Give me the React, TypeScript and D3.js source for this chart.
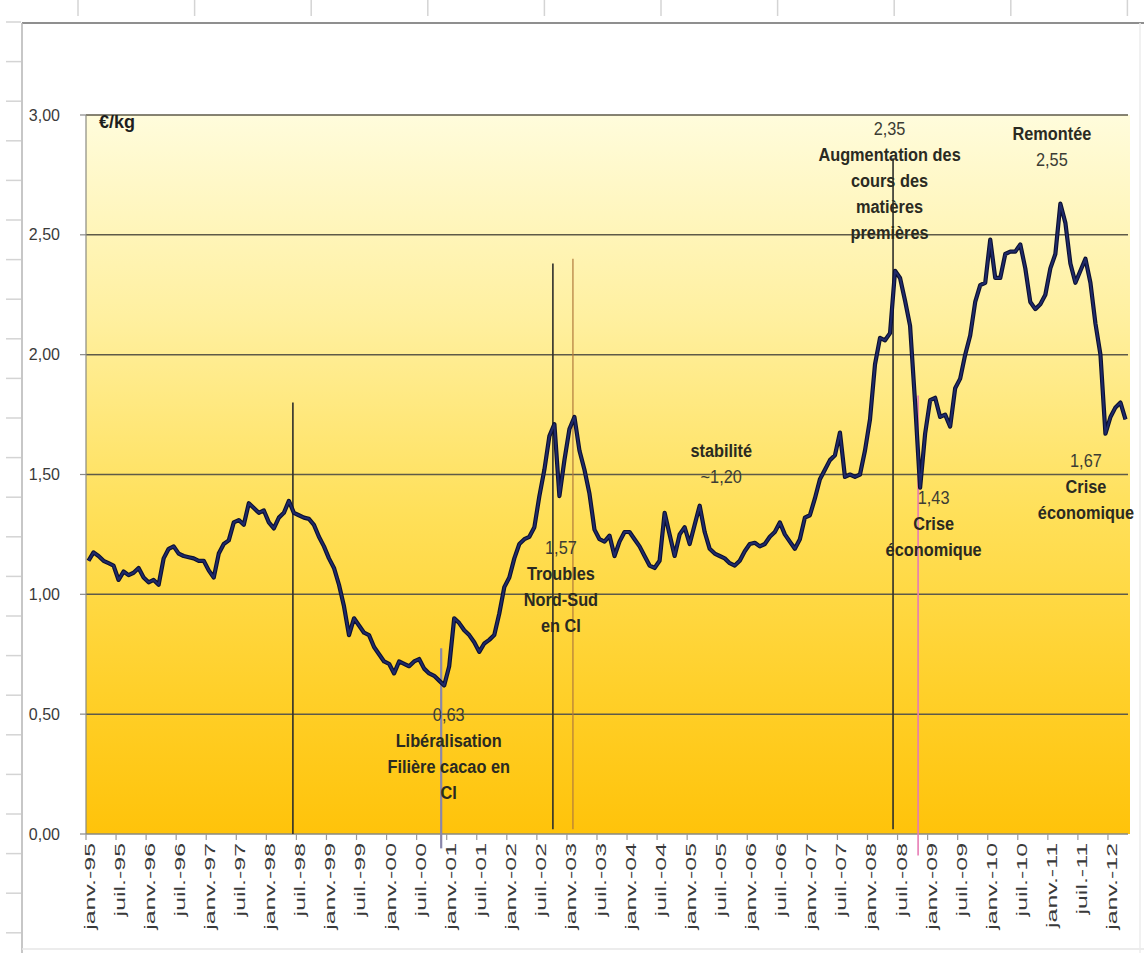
import React from 'react';
import * as d3 from 'd3';

// Monthly cocoa price (€/kg), janv.-95 → avr.-12
const prices: number[] = [
  1.14, 1.175, 1.16, 1.14, 1.13, 1.12, 1.06, 1.095, 1.08, 1.09,
  1.11, 1.07, 1.05, 1.06, 1.04, 1.15, 1.19, 1.2, 1.17, 1.16,
  1.155, 1.15, 1.14, 1.14, 1.1, 1.07, 1.17, 1.21, 1.225, 1.3,
  1.31, 1.29, 1.38, 1.36, 1.34, 1.35, 1.3, 1.275, 1.32, 1.34,
  1.39, 1.34, 1.33, 1.32, 1.315, 1.29, 1.24, 1.2, 1.15, 1.11,
  1.04, 0.95, 0.83, 0.9, 0.87, 0.84, 0.83, 0.78, 0.75, 0.72,
  0.71, 0.67, 0.72, 0.71, 0.7, 0.72, 0.73, 0.69, 0.67, 0.66,
  0.64, 0.62, 0.7, 0.9, 0.88, 0.85, 0.83, 0.8, 0.76, 0.795,
  0.81, 0.83, 0.92, 1.03, 1.07, 1.15, 1.21, 1.23, 1.24, 1.28,
  1.41, 1.52, 1.66, 1.71, 1.41, 1.56, 1.69, 1.74, 1.6, 1.52,
  1.42, 1.27, 1.23, 1.22, 1.245, 1.16, 1.22, 1.26, 1.26, 1.23,
  1.2, 1.16, 1.12, 1.11, 1.14, 1.34, 1.25, 1.16, 1.25, 1.28,
  1.21, 1.29, 1.37, 1.26, 1.19, 1.17, 1.16, 1.15, 1.13, 1.12,
  1.14, 1.18, 1.21, 1.215, 1.2, 1.21, 1.24, 1.26, 1.3, 1.25,
  1.22, 1.19, 1.23, 1.32, 1.33, 1.4, 1.48, 1.52, 1.56, 1.58,
  1.675, 1.49, 1.5, 1.49, 1.5, 1.6, 1.73, 1.96, 2.07, 2.06,
  2.09, 2.35, 2.32, 2.225, 2.12, 1.8, 1.445, 1.67, 1.81, 1.82,
  1.74, 1.75, 1.7, 1.86, 1.9, 2.0, 2.08, 2.22, 2.29, 2.3,
  2.48, 2.32, 2.32, 2.42, 2.43, 2.43, 2.46, 2.36, 2.22, 2.19,
  2.21, 2.25, 2.36, 2.42, 2.63, 2.55, 2.38, 2.3, 2.35, 2.4,
  2.3, 2.13, 2.0, 1.67, 1.74, 1.78, 1.8, 1.73,
];

const yTicks: number[] = [0, 0.5, 1, 1.5, 2, 2.5, 3];
const yTickLabels: string[] = ['0,00', '0,50', '1,00', '1,50', '2,00', '2,50', '3,00'];

const xTickLabels: string[] = [
  'janv.-95', 'juil.-95', 'janv.-96', 'juil.-96', 'janv.-97', 'juil.-97',
  'janv.-98', 'juil.-98', 'janv.-99', 'juil.-99', 'janv.-00', 'juil.-00',
  'janv.-01', 'juil.-01', 'janv.-02', 'juil.-02', 'janv.-03', 'juil.-03',
  'janv.-04', 'juil.-04', 'janv.-05', 'juil.-05', 'janv.-06', 'juil.-06',
  'janv.-07', 'juil.-07', 'janv.-08', 'juil.-08', 'janv.-09', 'juil.-09',
  'janv.-10', 'juil.-10', 'janv.-11', 'juil.-11', 'janv.-12',
];
const monthsPerTick = 6;

// Event markers: month index (fractional), value range
const eventMonths: number[] = [41.3, 70.9, 93.2, 97.2, 161.1, 166.1];
const eventTop: number[] = [1.8, 0.775, 2.38, 2.4, 2.82, 1.83];
const eventBottom: number[] = [0, -0.06, 0.02, 0.02, 0.02, -0.09];
const eventKinds: string[] = ['dark', 'violet', 'dark', 'brown', 'dark', 'pink'];

// Annotations: anchor month, value of first line, lines (text + bold flag)
const annotMonths: number[] = [72.4, 94.8, 126.8, 160.4, 192.8, 169.2, 199.6];
const annotValues: number[] = [0.47, 1.167, 1.571, 2.917, 2.896, 1.375, 1.533];
const annotTexts: string[][] = [
  ['0,63', 'Libéralisation', 'Filière cacao en', 'CI'],
  ['1,57', 'Troubles', 'Nord-Sud', 'en CI'],
  ['stabilité', '~1,20'],
  ['2,35', 'Augmentation des', 'cours des', 'matières', 'premières'],
  ['Remontée', '2,55'],
  ['1,43', 'Crise', 'économique'],
  ['1,67', 'Crise', 'économique'],
];
const annotBold: boolean[][] = [
  [false, true, true, true],
  [false, true, true, true],
  [true, false],
  [false, true, true, true, true],
  [true, false],
  [false, true, true],
  [false, true, true],
];

const W = 1144;
const H = 953;
const plot = { left: 86, right: 1128, top: 115, bottom: 834 };
const eventStyle: Record<string, { stroke: string; width: number }> = {
  dark: { stroke: '#2e2e2a', width: 1.6 },
  violet: { stroke: '#8a86aa', width: 2.2 },
  brown: { stroke: '#b27a3c', width: 1.2 },
  pink: { stroke: '#e77bb4', width: 1.6 },
};
const FONT = "'Liberation Sans', Arial, sans-serif";

export default function App() {
  const x = d3.scaleLinear().domain([0, 208]).range([plot.left, plot.right]);
  const y = d3.scaleLinear().domain([0, 3]).range([plot.bottom, plot.top]);

  const line = d3
    .line<number>()
    .x((_, i) => x(i + 0.5))
    .y((d) => y(d))
    .curve(d3.curveLinear);

  const colTicks = d3.range(78, W, 116.6);
  const rowTicks = d3.range(22, H, 39.6);

  return (
    <svg
      width={W}
      height={H}
      style={{ position: 'absolute', left: 0, top: 0, background: '#fff' }}
      fontFamily={FONT}
    >
      <defs>
        <linearGradient id="bg" x1="0" y1="0" x2="0" y2="1">
          <stop offset="0%" stopColor="#FFFCDC" />
          <stop offset="28%" stopColor="#FFF0A0" />
          <stop offset="55%" stopColor="#FFE05A" />
          <stop offset="80%" stopColor="#FFD02A" />
          <stop offset="100%" stopColor="#FFC30A" />
        </linearGradient>
      </defs>

      {/* spreadsheet frame decorations */}
      {colTicks.map((cx, i) => (
        <line key={'c' + i} x1={cx} x2={cx} y1={0} y2={16} stroke="#d4d4d4" strokeWidth={1.5} />
      ))}
      {rowTicks.map((ry, i) => (
        <line key={'r' + i} x1={6} x2={21} y1={ry} y2={ry} stroke="#d4d4d4" strokeWidth={1.5} />
      ))}
      <line x1={22} x2={W} y1={23} y2={23} stroke="#8f8f8f" strokeWidth={2} />
      <line x1={22} x2={22} y1={23} y2={H} stroke="#b5b5b5" strokeWidth={1.5} />
      <line x1={22} x2={W} y1={949} y2={949} stroke="#e6e6e6" strokeWidth={1.5} />
      <line x1={1140} x2={1140} y1={23} y2={H} stroke="#ececec" strokeWidth={1.5} />

      {/* plot background */}
      <rect
        x={plot.left}
        y={plot.top}
        width={plot.right - plot.left + 2}
        height={plot.bottom - plot.top}
        fill="url(#bg)"
      />

      {/* gridlines */}
      {yTicks.map((t) => (
        <line
          key={'g' + t}
          x1={plot.left}
          x2={plot.right}
          y1={y(t)}
          y2={y(t)}
          stroke={t === 0 ? '#8a8a80' : '#5e5a48'}
          strokeWidth={1.5}
        />
      ))}
      <line x1={plot.left} x2={plot.left} y1={plot.top} y2={plot.bottom} stroke="#8a8a80" strokeWidth={1.2} />

      {/* y axis ticks and labels */}
      {yTicks.map((t, i) => (
        <g key={'yl' + t}>
          <line x1={80} x2={plot.left} y1={y(t)} y2={y(t)} stroke="#888" strokeWidth={1.2} />
          <text x={60} y={y(t)} dy="0.35em" textAnchor="end" fontSize={16} fill="#3a3a3a">
            {yTickLabels[i]}
          </text>
        </g>
      ))}

      {/* x axis ticks and labels */}
      {xTickLabels.map((lab, k) => {
        const tx = x(k * monthsPerTick);
        return (
          <g key={'xl' + k}>
            <line x1={tx} x2={tx} y1={plot.bottom} y2={plot.bottom + 6} stroke="#999" strokeWidth={1.2} />
            <text
              transform={`translate(${tx + 4},${plot.bottom + 9}) rotate(-90) scale(1.72,1)`}
              textAnchor="end"
              dominantBaseline="central"
              fontSize={14.5}
              fill="#3a3a3a"
            >
              {lab}
            </text>
          </g>
        );
      })}

      {/* event lines */}
      {eventMonths.map((m, i) => {
        const s = eventStyle[eventKinds[i]];
        return (
          <line
            key={'e' + i}
            x1={x(m)}
            x2={x(m)}
            y1={y(eventTop[i])}
            y2={y(eventBottom[i])}
            stroke={s.stroke}
            strokeWidth={s.width}
          />
        );
      })}

      {/* price line */}
      <path d={line(prices) || ''} fill="none" stroke="#0c1030" strokeWidth={4.2} strokeLinejoin="round" />
      <path d={line(prices) || ''} fill="none" stroke="#1f2a6a" strokeWidth={2} strokeLinejoin="round" />

      {/* unit */}
      <text x={99} y={y(3) + 13} fontSize={18} fontWeight="bold" fill="#1e1e1e">
        €/kg
      </text>

      {/* annotations */}
      {annotTexts.map((lines, a) => (
        <g
          key={'a' + a}
          transform={`translate(${x(annotMonths[a])},${y(annotValues[a])}) scale(0.96,1.1)`}
        >
          <text x={0} y={0} textAnchor="middle" fontSize={17}>
            {lines.map((t, j) => (
              <tspan
                key={j}
                x={0}
                dy={j === 0 ? 0 : 23.6}
                fontWeight={annotBold[a][j] ? 'bold' : 'normal'}
                fill={annotBold[a][j] ? '#2a2a22' : '#3c3c34'}
              >
                {t}
              </tspan>
            ))}
          </text>
        </g>
      ))}
    </svg>
  );
}
